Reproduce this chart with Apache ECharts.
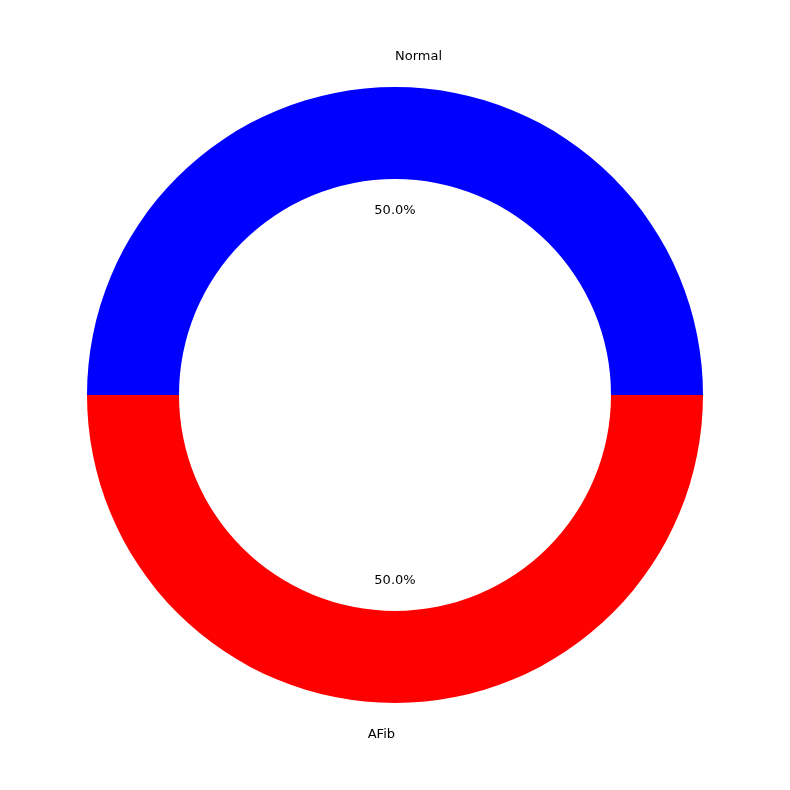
<!DOCTYPE html>
<html>
<head>
<meta charset="utf-8">
<script src="https://cdn.jsdelivr.net/npm/echarts@6/dist/echarts.min.js"></script>
<style>
  html, body { margin: 0; padding: 0; background: #fff; }
  #chart { width: 790px; height: 790px; }
</style>
</head>
<body>
<div id="chart"></div>
<script>
const categories = ['Normal', 'AFib'];
const counts = [50, 50];
const colors = ['#0000ff', '#ff0000'];

const chart = echarts.init(document.getElementById('chart'));
const total = counts.reduce((a, b) => a + b, 0);
const txt = { color: '#000', fontFamily: 'DejaVu Sans', fontSize: 13, offset: [0, 1] };

const ringData = categories.map((c, i) => ({ name: c, value: counts[i], itemStyle: { color: colors[i] } }));
const clearData = categories.map((c, i) => ({ name: c, value: counts[i] }));

const base = {
  type: 'pie',
  center: [395, 395],
  startAngle: 180,
  clockwise: true,
  silent: true,
  avoidLabelOverlap: false,
  labelLine: { show: false },
  emphasis: { disabled: true }
};

chart.setOption({
  animation: false,
  series: [
    Object.assign({}, base, {
      radius: [216, 308],
      data: ringData,
      label: { show: false },
      itemStyle: { borderWidth: 0 }
    }),
    // percentage labels, about 0.6 of outer radius
    Object.assign({}, base, {
      radius: [0, 364],
      data: clearData,
      itemStyle: { color: 'rgba(0,0,0,0)', borderWidth: 0 },
      label: Object.assign({
        show: true,
        position: 'inside',
        formatter: p => (p.value / total * 100).toFixed(1) + '%'
      }, txt)
    }),
    // category labels, about 1.1 of outer radius
    Object.assign({}, base, {
      radius: [0, 672],
      data: clearData,
      itemStyle: { color: 'rgba(0,0,0,0)', borderWidth: 0 },
      label: Object.assign({
        show: true,
        position: 'inside',
        formatter: '{b}'
      }, txt),
      labelLayout: p => ({ align: p.dataIndex === 0 ? 'left' : 'right' })
    })
  ]
});
</script>
</body>
</html>
